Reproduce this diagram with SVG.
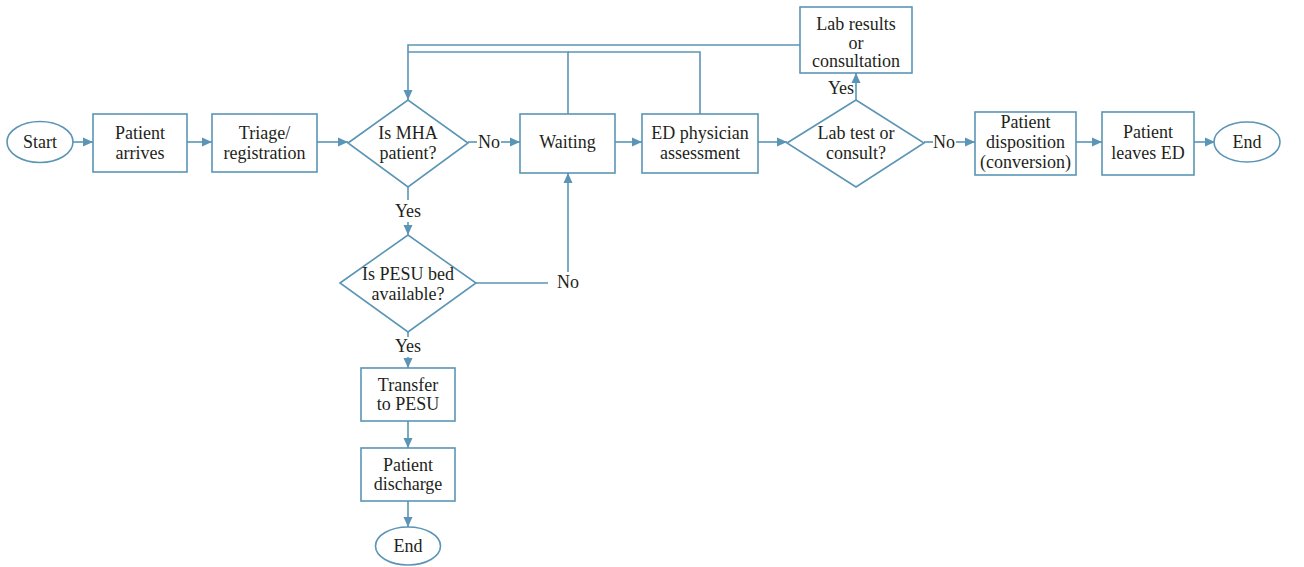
<svg xmlns="http://www.w3.org/2000/svg" width="1304" height="567" viewBox="0 0 1304 567">
<style>
.n{fill:#fff;stroke:#5b95b5;stroke-width:1.6}
.c{fill:none;stroke:#5b95b5;stroke-width:1.6}
text{font-family:'Liberation Serif','Times New Roman','DejaVu Serif',serif;font-size:18px;fill:#231f20;text-anchor:middle}
</style>
<defs>
<marker id="a" markerUnits="userSpaceOnUse" markerWidth="10" markerHeight="10" refX="10" refY="5" orient="auto">
<path d="M0,0.5 L10,5 L0,9.5 z" fill="#5b95b5"/>
</marker>
</defs>
<g id="connectors">
<path class="c" d="M73,142 H93" marker-end="url(#a)"/>
<path class="c" d="M187,142 H212" marker-end="url(#a)"/>
<path class="c" d="M317,142 H348" marker-end="url(#a)"/>
<path class="c" d="M468,142 H477"/>
<path class="c" d="M501,142 H520" marker-end="url(#a)"/>
<path class="c" d="M615,142 H642" marker-end="url(#a)"/>
<path class="c" d="M758,142 H787" marker-end="url(#a)"/>
<path class="c" d="M924,142 H933"/>
<path class="c" d="M956,142 H975" marker-end="url(#a)"/>
<path class="c" d="M1076,142 H1102" marker-end="url(#a)"/>
<path class="c" d="M1194,142 H1215" marker-end="url(#a)"/>
<path class="c" d="M856,100 V73" marker-end="url(#a)"/>
<path class="c" d="M800,45 H408 V100" marker-end="url(#a)"/>
<path class="c" d="M568,114 V52 H408"/>
<path class="c" d="M700,114 V52 H568"/>
<path class="c" d="M408,187 V200"/>
<path class="c" d="M408,222 V235" marker-end="url(#a)"/>
<path class="c" d="M476,283 H548"/>
<path class="c" d="M568,272 V173" marker-end="url(#a)"/>
<path class="c" d="M408,332 V337"/>
<path class="c" d="M408,357 V368" marker-end="url(#a)"/>
<path class="c" d="M408,421 V448" marker-end="url(#a)"/>
<path class="c" d="M408,501 V527" marker-end="url(#a)"/>
<text x="489" y="148">No</text>
<text x="944" y="148">No</text>
<text x="568" y="288">No</text>
<text x="408" y="217">Yes</text>
<text x="408" y="352">Yes</text>
<text x="841" y="94">Yes</text>
</g>
<g id="start"><ellipse class="n" cx="40" cy="142" rx="33" ry="20.5"/><text x="40" y="148">Start</text></g>
<g id="arrives"><rect class="n" x="93" y="114" width="94" height="58"/><text x="140" y="139">Patient</text><text x="140" y="159">arrives</text></g>
<g id="triage"><rect class="n" x="212" y="114" width="105" height="58"/><text x="264.5" y="139">Triage/</text><text x="264.5" y="159">registration</text></g>
<g id="mha"><path class="n" d="M348,143 L408,100 L468,143 L408,187 z"/><text x="408" y="139">Is MHA</text><text x="408" y="159">patient?</text></g>
<g id="waiting"><rect class="n" x="520" y="114" width="95" height="59"/><text x="567.5" y="148">Waiting</text></g>
<g id="ed"><rect class="n" x="642" y="114" width="116" height="59"/><text x="700" y="139">ED physician</text><text x="700" y="159">assessment</text></g>
<g id="labres"><rect class="n" x="800" y="7" width="112" height="66"/><text x="856" y="30">Lab results</text><text x="856" y="49">or</text><text x="856" y="67">consultation</text></g>
<g id="labq"><path class="n" d="M787,143 L856,100 L924,143 L856,187 z"/><text x="856" y="139">Lab test or</text><text x="856" y="159">consult?</text></g>
<g id="dispo"><rect class="n" x="975" y="112" width="101" height="63"/><text x="1025.5" y="128">Patient</text><text x="1025.5" y="148">disposition</text><text x="1025.5" y="168">(conversion)</text></g>
<g id="leaves"><rect class="n" x="1102" y="112" width="92" height="63"/><text x="1148" y="138">Patient</text><text x="1148" y="159">leaves ED</text></g>
<g id="end1"><ellipse class="n" cx="1247" cy="142" rx="33" ry="20"/><text x="1247" y="148">End</text></g>
<g id="pesu"><path class="n" d="M340,283 L408,235 L476,283 L408,332 z"/><text x="408" y="280">Is PESU bed</text><text x="408" y="300">available?</text></g>
<g id="transfer"><rect class="n" x="361" y="368" width="94" height="53"/><text x="408" y="391">Transfer</text><text x="408" y="410">to PESU</text></g>
<g id="discharge"><rect class="n" x="361" y="448" width="94" height="53"/><text x="408" y="471">Patient</text><text x="408" y="490">discharge</text></g>
<g id="end2"><ellipse class="n" cx="408" cy="546" rx="32.5" ry="19"/><text x="408" y="552">End</text></g>
</svg>
